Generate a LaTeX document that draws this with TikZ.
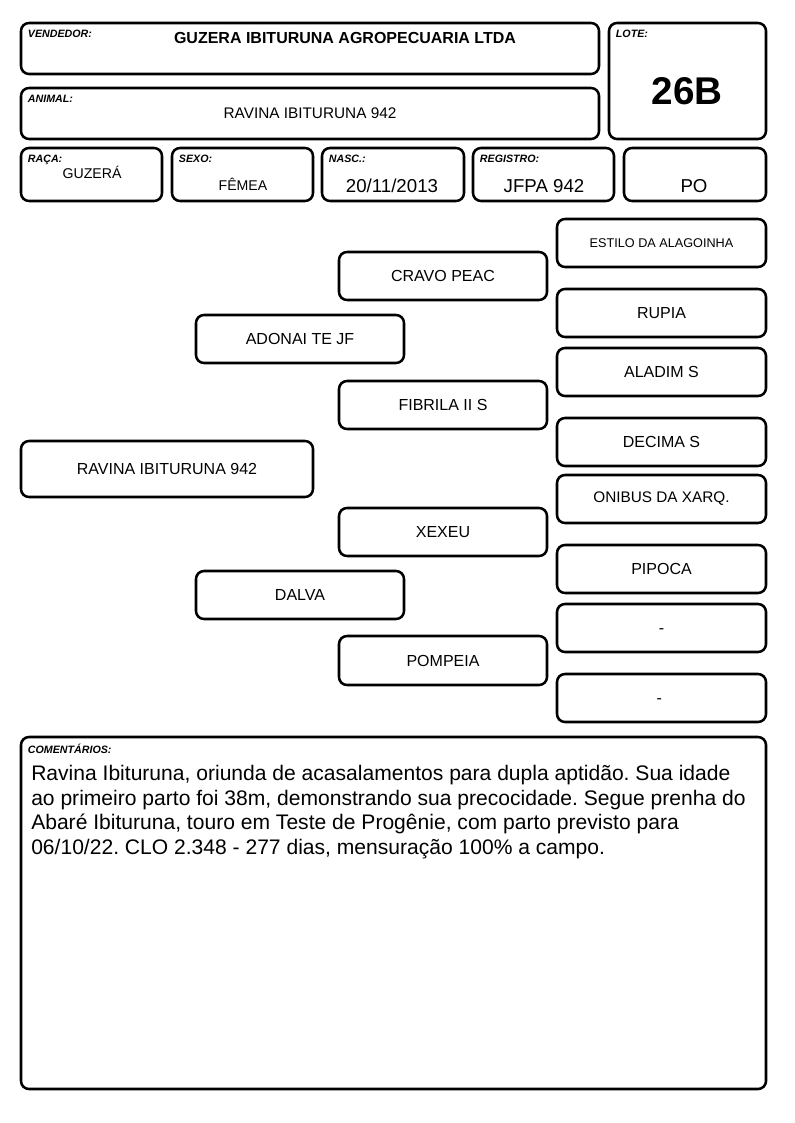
\documentclass[tikz,border=0pt]{standalone}
\usepackage{fontspec}
\setmainfont{Liberation Sans}
\usetikzlibrary{positioning}
\frenchspacing

\begin{document}
\begin{tikzpicture}[
    x=0.75pt, y=-0.75pt,
    card/.style={draw, line width=1.9pt, rounded corners=6pt, inner sep=0pt, outer sep=0pt, align=center},
    field label/.style={font=\bfseries\itshape\fontsize{8}{9}\selectfont, anchor=north west, inner sep=0pt},
    field value/.style={inner sep=0pt},
    ped name/.style={font=\fontsize{12}{14}\selectfont, text height=8.6pt, text depth=0pt}
]

\useasboundingbox (0,0) rectangle (794,1123);

% --- 1. Header cards ---
\foreach \nm/\xa/\ya/\xb/\yb in {
    vendedor/21/23/599/74, animal/21/88/599/139, lote/609/23/766/139,
    raca/21/148/162/201, sexo/172/148/313/201, nasc/322/148/464/201,
    registro/473/148/614/201, categoria/624/148/766/201,
    comentarios/21/737/766/1089
}{
    \node[card, minimum width={(\xb-\xa)*0.75pt}, minimum height={(\yb-\ya)*0.75pt}]
        (\nm) at ({(\xa+\xb)/2},{(\ya+\yb)/2}) {};
}

% field labels
\foreach \nm/\txt in {
    vendedor/VENDEDOR:, animal/ANIMAL:, lote/LOTE:, raca/RAÇA:, sexo/SEXO:,
    nasc/NASC.:, registro/REGISTRO:, comentarios/COMENTÁRIOS:
}{
    \node[field label] (\nm-lbl) at ([shift={(5pt,-5pt)}]\nm.north west) {\txt};
}

% field values
\node[field value, font=\bfseries\fontsize{12}{14}\selectfont] (vendedor-val) at (345,38) {GUZERA IBITURUNA AGROPECUARIA LTDA};
\node[field value, font=\fontsize{11.5}{14}\selectfont] (animal-val) at (310,113) {RAVINA IBITURUNA 942};
\node[field value, font=\bfseries\fontsize{29}{32}\selectfont] (lote-val) at (687,91) {26B};
\node[field value, font=\fontsize{10.6}{13}\selectfont] (raca-val) at (92,172) {GUZERÁ};
\node[field value, font=\fontsize{10.6}{13}\selectfont] (sexo-val) at (243,184) {FÊMEA};
\node[field value, font=\fontsize{14}{16}\selectfont] (nasc-val) at (392,186) {20/11/2013};
\node[field value, font=\fontsize{14}{16}\selectfont] (registro-val) at (544,186) {JFPA 942};
\node[field value, font=\fontsize{14}{16}\selectfont] (categoria-val) at (694,186) {PO};

% --- 2. Pedigree ---
\foreach \nm/\xa/\ya/\xb/\yb/\txt in {
    animalped/21/441/313/497/RAVINA IBITURUNA 942,
    pai/196/315/404/363/ADONAI TE JF,
    mae/196/571/404/619/DALVA,
    avopp/339/252/547/300/CRAVO PEAC,
    avopm/339/381/547/429/FIBRILA II S,
    avomp/339/508/547/556/XEXEU,
    avomm/339/636/547/685/POMPEIA,
    bis2/557/289/766/337/RUPIA,
    bis3/557/348/766/396/ALADIM S,
    bis4/557/418/766/466/DECIMA S,
    bis6/557/545/766/593/PIPOCA,
    bis7/557/604/766/652/-,
    bis8/557/674/766/722/-
}{
    \node[card, ped name, minimum width={(\xb-\xa)*0.75pt}, minimum height={(\yb-\ya)*0.75pt}]
        (\nm) at ({(\xa+\xb)/2},{(\ya+\yb)/2}) {\txt};
}
\node[card, font=\fontsize{9.5}{11}\selectfont, minimum width=156.75pt, minimum height=36pt]
    (bis1) at (661.5,243) {ESTILO DA ALAGOINHA};
\node[card, font=\fontsize{11.5}{13}\selectfont, minimum width=156.75pt, minimum height=36pt]
    (bis5) at (661.5,499) {ONIBUS DA XARQ.};

% --- 3. Comments ---
\node[field value, anchor=north west, align=left, font=\fontsize{15.8}{18.4}\selectfont]
    (comentarios-txt) at (31,765) {Ravina Ibituruna, oriunda de acasalamentos para dupla aptidão. Sua idade\\
ao primeiro parto foi 38m, demonstrando sua precocidade. Segue prenha do\\
Abaré Ibituruna, touro em Teste de Progênie, com parto previsto para\\
06/10/22. CLO 2.348 - 277 dias, mensuração 100\% a campo.};

\end{tikzpicture}
\end{document}
